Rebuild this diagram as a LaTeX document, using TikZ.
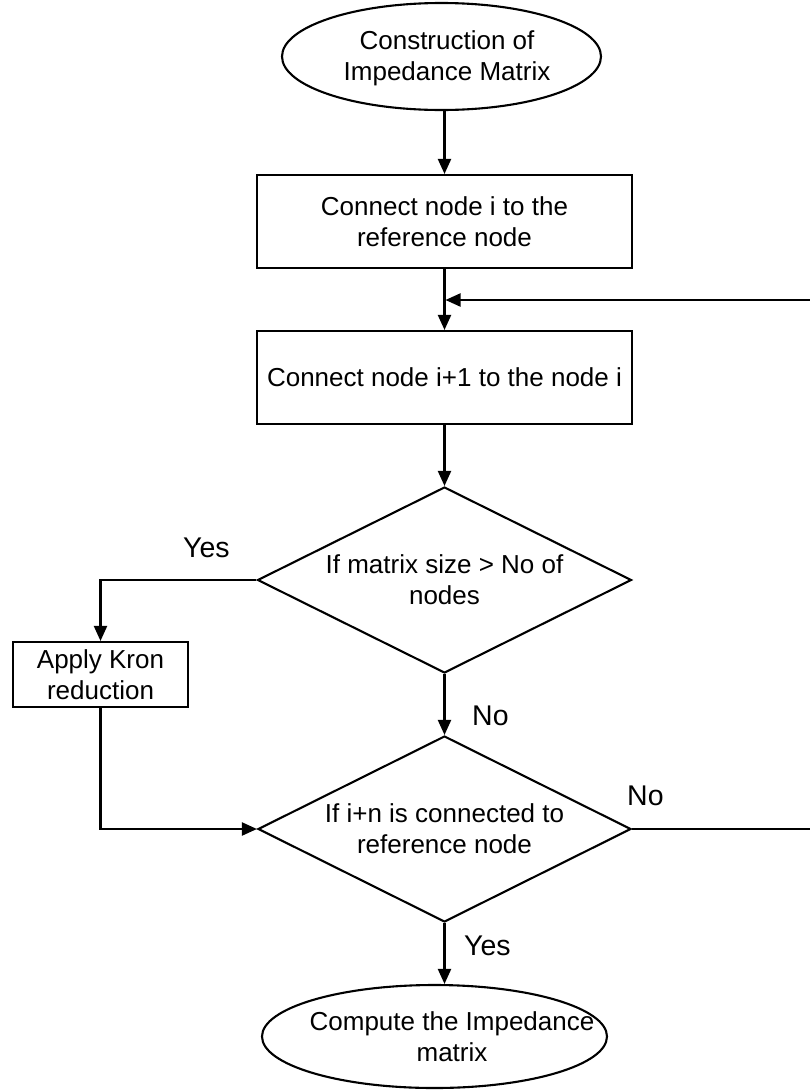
\documentclass[tikz,border=0pt]{standalone}
\usepackage{fontspec}
\setmainfont{Liberation Sans}
\usetikzlibrary{shapes.geometric,arrows.meta}

\begin{document}
\begin{tikzpicture}[x=1pt,y=-1pt,
  every node/.style={font=\fontsize{26}{31}\selectfont, inner sep=0pt},
  flowline/.style={line width=2.1pt, line join=miter},
  flowarrow/.style={flowline, -{Triangle[length=15pt,width=13pt]}},
  terminal/.style={draw, line width=2.1pt, ellipse},
  process/.style={draw, line width=2.1pt, rectangle, align=center},
  decision/.style={draw, line width=2.1pt, diamond, aspect=2, align=center,
                   minimum width=374pt, minimum height=186pt},
  branchlabel/.style={anchor=base west, font=\fontsize{28.5}{34}\selectfont}]

\useasboundingbox (0,0) rectangle (809,1090);

% terminals
\node[terminal, minimum width=319pt, minimum height=107pt] (start) at (441.5,56.5) {};
\node[align=center] (starttext) at (447,58) {Construction of\\Impedance Matrix};

\node[terminal, minimum width=345pt, minimum height=103pt] (finish) at (434.5,1036.5) {};
\node[align=center] (finishtext) at (452,1037) {Compute the Impedance\\matrix};

% process steps
\node[process, minimum width=375pt, minimum height=93pt] (connref) at (444.5,221.5)
  {Connect node i to the\\reference node};
\node[process, minimum width=375pt, minimum height=93pt] (connnext) at (444.5,377.5)
  {Connect node i+1 to the node i};
\node[process, minimum width=175pt, minimum height=65pt] (kron) at (100.5,674.5)
  {Apply Kron\\reduction};

% decisions
\node[decision] (sizecheck) at (444.5,580) {If matrix size > No of\\nodes};
\node[decision, minimum width=373pt] (refcheck) at (444.5,829) {If i+n is connected to\\reference node};

% branch labels
\node[branchlabel] (yes1) at (183,557) {Yes};
\node[branchlabel] (no1) at (472,725) {No};
\node[branchlabel] (no2) at (627,805) {No};
\node[branchlabel] (yes2) at (464,955) {Yes};

% loop-back rail and its junction
\coordinate (rail) at (814,300);
\coordinate (join) at (445.5,300);

% connectors
\draw[flowarrow] (start.south -| connref.north) -- (connref.north);
\draw[flowarrow] (connref.south) -- (connnext.north);
\draw[flowarrow] (connnext.south) -- (sizecheck.north);
\draw[flowarrow] (sizecheck.west) -| (kron.north);
\draw[flowarrow] (sizecheck.south) -- (refcheck.north);
\draw[flowarrow] (kron.south) |- (refcheck.west);
\draw[flowarrow] (refcheck.south) -- (refcheck.south |- finish.north);
\draw[flowarrow] (refcheck.east) -| (rail) -- (join);

\end{tikzpicture}
\end{document}
